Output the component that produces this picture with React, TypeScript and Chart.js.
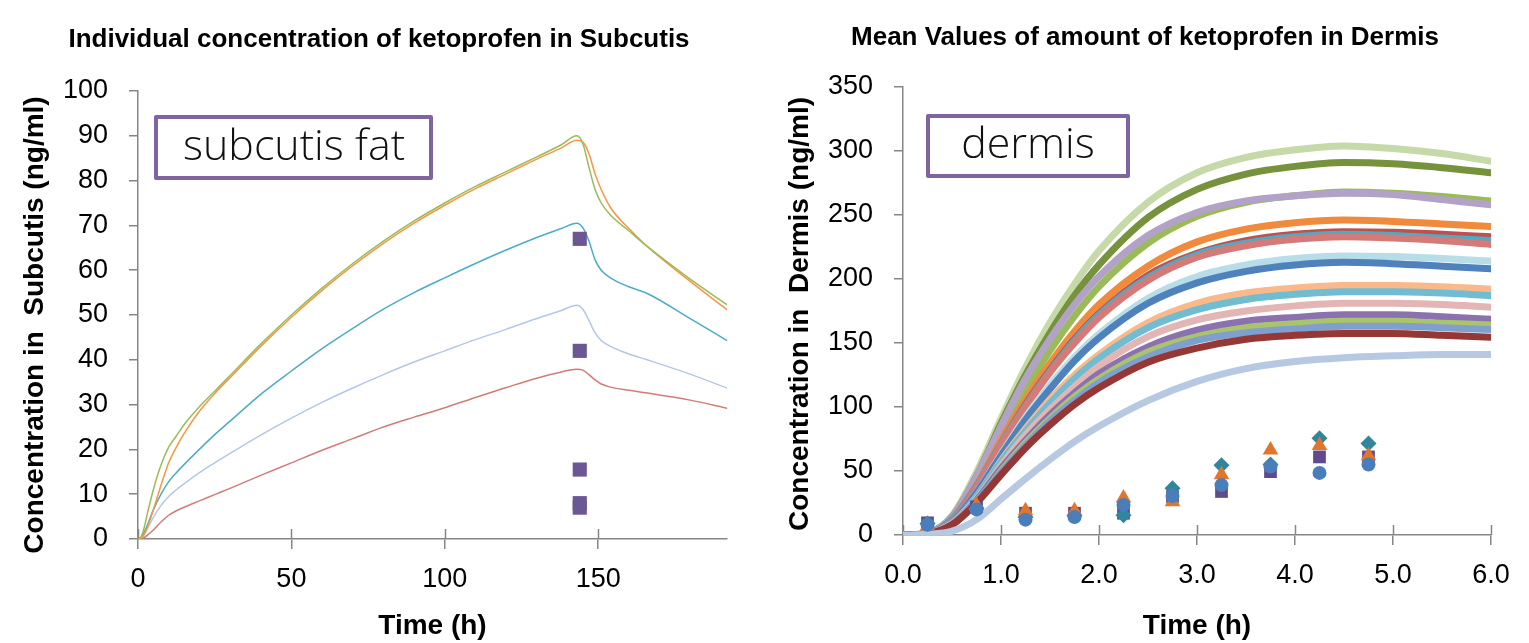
import React, { useEffect, useRef } from "react";
import { Chart, registerables } from "chart.js";

Chart.register(...registerables);

// ---------- Left chart: subcutis ----------
const subTitle = "Individual concentration of ketoprofen in Subcutis";
const subYTitle = "Concentration in  Subcutis (ng/ml)";
const subTimes = [0, 1, 2, 3, 5, 7.5, 10, 12.5, 15, 20, 25, 30, 40, 50, 60, 70, 80, 90, 100, 110, 120, 130, 138, 143, 145, 147, 149, 151, 154, 160, 166, 180, 192];
const subGreen = [0, 0.5, 2.5, 5.5, 11, 16.5, 20.5, 23, 25.5, 29.5, 33, 36.5, 43.5, 50, 56, 61.5, 66.5, 71, 75, 78.7, 82, 85.3, 88, 90, 88.3, 83, 78, 75, 72.3, 68.8, 65.3, 58, 52.3];
const subOrange = [0, 0.2, 1, 2.5, 6.5, 12, 17, 20.5, 23.5, 28.5, 32.5, 36, 43, 49.5, 55.5, 61, 66, 70.5, 74.5, 78.2, 81.5, 84.8, 87.3, 89, 88.6, 86, 81.5, 78, 74, 69.3, 65.3, 57.5, 51.2];
const subTeal = [0, 0.3, 1.5, 3, 6.5, 10, 12.8, 14.8, 16.6, 20, 23.3, 26.3, 32.3, 37.5, 42.5, 47, 51.3, 55, 58.3, 61.5, 64.5, 67.3, 69.3, 70.5, 69.5, 66.5, 62.3, 60, 58.3, 56.3, 54.8, 49.2, 44.3];
const subLightBlue = [0, 0.2, 1, 2.2, 4.8, 7.5, 9.5, 11, 12.3, 14.8, 17, 19.1, 23.2, 27, 30.5, 33.7, 36.7, 39.5, 42, 44.5, 46.8, 49.2, 51, 52.2, 51.3, 48.8, 46, 44.3, 43, 41.3, 40, 36.8, 33.7];
const subRed = [0, 0, 0.3, 0.8, 2, 3.8, 5.3, 6.3, 7.1, 8.5, 9.9, 11.3, 14.2, 17, 19.8, 22.4, 25, 27.2, 29.3, 31.6, 33.8, 35.9, 37.3, 37.9, 37.7, 36.7, 35.5, 34.6, 33.9, 33.2, 32.6, 31, 29.2];
const subSampleTimes = [144, 144, 144, 144, 144];
const subSampleValues = [67, 42, 15.5, 8, 7];

// ---------- Right chart: dermis ----------
const dermTitle = "Mean Values of amount of ketoprofen in Dermis";
const dermYTitle = "Concentration in  Dermis (ng/ml)";
const dermTimes = [0, 0.25, 0.5, 0.75, 1, 1.25, 1.5, 1.75, 2, 2.5, 3, 3.5, 4, 4.5, 5, 5.5, 6];
const dermA = [0, 1.5, 15, 49, 91, 131, 166, 196, 222, 260, 283, 295, 301, 304, 302, 298, 292];
const dermB = [0, 1.5, 14, 46, 87, 125, 158, 187, 211, 248, 270, 282, 288, 291, 290, 287, 283];
const dermC = [0, 1.3, 12, 41, 78, 113, 144, 171, 194, 228, 249, 260, 265, 268, 267, 264.5, 261];
const dermD = [0, 1.5, 14, 46, 85, 122, 153, 180, 202, 234, 252, 261, 265, 267, 266, 262, 258];
const dermE = [0, 1, 12, 39, 74, 106, 134, 159, 180, 210, 229, 239, 244, 246, 245, 243, 241];
const dermF = [0, 1, 12, 38, 71, 102, 129, 153, 173, 203, 220, 230, 235, 237, 236.5, 235, 233];
const dermG = [0, 1, 12, 38, 71, 101, 128, 152, 172, 201, 219, 228, 233, 235, 234, 232, 230];
const dermH = [0, 1, 11, 37, 70, 100, 127, 150, 170, 199, 217, 226, 231, 233, 232, 230, 227];
const dermI = [0, 1, 10, 33, 63, 92, 117, 139, 157, 185, 202, 211, 216, 218, 217.5, 216, 214];
const dermJ = [0, 1, 10, 33, 62, 90, 114, 136, 154, 181, 197, 206, 211, 213, 212, 210, 208];
const dermK = [0, 1, 9, 30, 58, 83, 106, 125, 141, 166, 181, 189, 193, 195, 195, 194, 192];
const dermL = [0, 1, 9, 30, 57, 81, 103, 122, 138, 162, 176, 184, 188, 190, 190, 189, 187];
const dermM = [0, 1, 9, 28, 54, 78, 98, 116, 132, 155, 168, 175, 179, 181, 181, 180, 178];
const dermN = [0, 1, 8, 27, 52, 74, 94, 111, 126, 147, 160, 167, 170, 172, 172, 170.5, 168.5];
const dermO = [0, 1, 8, 26, 50, 71, 90, 106, 120, 141, 153, 160, 163, 165, 165, 163.5, 162];
const dermP = [0, 1, 8, 26, 50, 72, 91, 108, 122, 143, 155, 162, 165, 167, 167, 165.5, 164];
const dermQ = [0, 1, 8, 26, 49, 70, 89, 105, 119, 139, 152, 158, 161, 163, 163, 162, 160.5];
const dermR = [0, 1, 8, 25, 47, 68, 86, 102, 115, 135, 146, 153, 156, 157.5, 157.5, 156, 154.5];
const dermS = [0, 0.5, 3, 12, 28, 44, 59, 73, 85, 105, 120, 130, 135.5, 138.5, 140, 141, 141];

const markTimes = [0.25, 0.75, 1.25, 1.75, 2.25, 2.75, 3.25, 3.75, 4.25, 4.75];
const markSquares = [9.5, 22, 17, 17, 17, 30, 34, 49.5, 61, 61];
const markTriangles = [7, 23, 19, 19, 29, 26, 47, 66.5, 70, 62];
const markDiamonds = [9, 21, 14, 15, 15.5, 36.5, 54.5, 55, 75.5, 71.5];
const markCircles = [8, 20, 12, 14, 23.5, 30.5, 39, 53.5, 48.5, 55];

// ---------- styling ----------
const SANS = "'Liberation Sans', Arial, sans-serif";
const AXIS = "#868686";
const BOX = "#8064A2";
const W = 1529;
const H = 643;
const HALF = 764;

const xy = (xs: number[], ys: number[]) => ys.map((y, i) => ({ x: xs[i], y }));

const lineDs = (xs: number[], ys: number[], color: string, width: number, order: number) => ({
  data: xy(xs, ys),
  showLine: true,
  borderColor: color,
  backgroundColor: color,
  borderWidth: width,
  pointRadius: 0,
  pointHoverRadius: 0,
  cubicInterpolationMode: "monotone" as const,
  borderCapStyle: "round" as const,
  borderJoinStyle: "round" as const,
  order,
});

const markDs = (xs: number[], ys: number[], color: string, style: string, radius: number, order: number) => ({
  data: xy(xs, ys),
  showLine: false,
  pointStyle: style,
  pointRadius: radius,
  pointHoverRadius: radius,
  pointBorderWidth: 0,
  pointBackgroundColor: color,
  pointBorderColor: color,
  backgroundColor: color,
  borderColor: color,
  order,
});

type Decor = {
  title: string;
  titleX: number;
  titleY: number;
  yTitle: string;
  yTitleX: number;
  yTitleY: number;
  box: { x: number; y: number; w: number; h: number; text: string; cx: number; cy: number };
};

const decorPlugin = (d: Decor) => ({
  id: "decor",
  beforeDatasetsDraw(chart: any) {
    const { ctx, chartArea } = chart;
    const sx = chart.scales.x;
    ctx.save();
    ctx.strokeStyle = AXIS;
    ctx.lineWidth = 1.5;
    ctx.beginPath();
    sx.ticks.forEach((t: any) => {
      const px = Math.round(sx.getPixelForValue(t.value)) + 0.5;
      ctx.moveTo(px, chartArea.bottom - 10);
      ctx.lineTo(px, chartArea.bottom);
    });
    ctx.stroke();
    ctx.restore();
  },
  afterDraw(chart: any) {
    const { ctx } = chart;
    const b = d.box;
    ctx.save();
    // chart title
    ctx.fillStyle = "#000000";
    ctx.font = `bold 26px ${SANS}`;
    ctx.textAlign = "center";
    ctx.textBaseline = "middle";
    ctx.fillText(d.title, d.titleX, d.titleY);
    // y axis title
    ctx.save();
    ctx.translate(d.yTitleX, d.yTitleY);
    ctx.rotate(-Math.PI / 2);
    ctx.font = `bold 28px ${SANS}`;
    ctx.fillText(d.yTitle, 0, 0);
    ctx.restore();
    // text box
    ctx.fillStyle = "#ffffff";
    ctx.fillRect(b.x, b.y, b.w, b.h);
    ctx.strokeStyle = BOX;
    ctx.lineWidth = 4;
    ctx.lineJoin = "round";
    ctx.strokeRect(b.x, b.y, b.w, b.h);
    ctx.fillStyle = "#111111";
    ctx.font = "300 43px 'Open Sans', 'Liberation Sans', sans-serif";
    ctx.textAlign = "center";
    ctx.textBaseline = "middle";
    ctx.fillText(b.text, b.cx, b.cy);
    ctx.restore();
  },
});

const makeOptions = (cfg: {
  top: number;
  xMax: number;
  xStep: number;
  yMax: number;
  yStep: number;
  xFmt: (v: number) => string;
  yAxisWidth: number;
  xAxisHeight: number;
  rightPad: number;
}) => ({
  responsive: false,
  animation: false as const,
  events: [] as any[],
  layout: { padding: { left: 0, right: cfg.rightPad, top: cfg.top, bottom: 0 } },
  plugins: {
    legend: { display: false },
    tooltip: { enabled: false },
    title: { display: false },
  },
  scales: {
    x: {
      type: "linear" as const,
      min: 0,
      max: cfg.xMax,
      afterFit: (s: any) => {
        s.height = cfg.xAxisHeight;
      },
      ticks: {
        stepSize: cfg.xStep,
        includeBounds: false,
        maxRotation: 0,
        autoSkip: false,
        color: "#000000",
        font: { family: SANS, size: 27 },
        padding: 14,
        callback: (v: any) => cfg.xFmt(Number(v)),
      },
      grid: { display: true, drawOnChartArea: false, drawTicks: true, tickLength: 10, color: AXIS, lineWidth: 1.5 },
      border: { display: true, color: AXIS, width: 1.5 },
      title: {
        display: true,
        text: "Time (h)",
        color: "#000000",
        font: { family: SANS, size: 28, weight: "bold" as const },
        padding: { top: 0, bottom: 0 },
      },
    },
    y: {
      type: "linear" as const,
      min: 0,
      max: cfg.yMax,
      afterFit: (s: any) => {
        s.width = cfg.yAxisWidth;
      },
      ticks: {
        stepSize: cfg.yStep,
        autoSkip: false,
        color: "#000000",
        font: { family: SANS, size: 27 },
        padding: 21,
      },
      grid: { display: true, drawOnChartArea: false, drawTicks: true, tickLength: 9, color: AXIS, lineWidth: 1.5 },
      border: { display: true, color: AXIS, width: 1.5 },
      title: { display: false },
    },
  },
});

export default function App() {
  const leftRef = useRef<HTMLCanvasElement | null>(null);
  const rightRef = useRef<HTMLCanvasElement | null>(null);

  useEffect(() => {
    if (!leftRef.current || !rightRef.current) return;

    const leftChart = new Chart(leftRef.current, {
      type: "scatter",
      data: {
        datasets: [
          markDs(subSampleTimes, subSampleValues, "#6B5793", "rect", 10, 0),
          lineDs(subTimes, subGreen, "#9BBB59", 1.5, 1),
          lineDs(subTimes, subOrange, "#F79646", 1.5, 2),
          lineDs(subTimes, subTeal, "#4BACC6", 1.5, 3),
          lineDs(subTimes, subLightBlue, "#B4C7E7", 1.5, 4),
          lineDs(subTimes, subRed, "#D27C7A", 1.5, 5),
        ] as any,
      },
      options: makeOptions({
        top: 91,
        xMax: 192,
        xStep: 50,
        yMax: 100,
        yStep: 10,
        xFmt: (v) => String(v),
        yAxisWidth: 138,
        xAxisHeight: 104,
        rightPad: 37,
      }) as any,
      plugins: [
        decorPlugin({
          title: subTitle,
          titleX: 379,
          titleY: 40,
          yTitle: subYTitle,
          yTitleX: 35,
          yTitleY: 325,
          box: { x: 156, y: 117, w: 275, h: 61, text: "subcutis fat", cx: 294, cy: 148 },
        }),
      ],
    });

    const rightChart = new Chart(rightRef.current, {
      type: "scatter",
      data: {
        datasets: [
          markDs(markTimes, markCircles, "#4A7EBB", "circle", 7, 0),
          markDs(markTimes, markTriangles, "#E1762B", "triangle", 9, 1),
          markDs(markTimes, markDiamonds, "#31859C", "rectRot", 8, 2),
          markDs(markTimes, markSquares, "#5F4B8B", "rect", 9, 3),
          lineDs(dermTimes, dermS, "#B7C9E2", 7, 10),
          lineDs(dermTimes, dermR, "#953735", 7, 11),
          lineDs(dermTimes, dermQ, "#7F9FCF", 7, 12),
          lineDs(dermTimes, dermP, "#A9C46B", 7, 13),
          lineDs(dermTimes, dermO, "#604A7B", 7, 14),
          lineDs(dermTimes, dermN, "#8B72AE", 7, 15),
          lineDs(dermTimes, dermM, "#E3B6B5", 7, 16),
          lineDs(dermTimes, dermL, "#6FBCD3", 7, 17),
          lineDs(dermTimes, dermK, "#FAB98A", 7, 18),
          lineDs(dermTimes, dermJ, "#4F81BD", 7, 19),
          lineDs(dermTimes, dermI, "#B7DEE8", 7, 20),
          lineDs(dermTimes, dermH, "#D47A78", 7, 21),
          lineDs(dermTimes, dermG, "#4BACC6", 7, 22),
          lineDs(dermTimes, dermF, "#C0504D", 7, 23),
          lineDs(dermTimes, dermE, "#F08A3C", 7, 24),
          lineDs(dermTimes, dermD, "#B3A2C7", 7, 25),
          lineDs(dermTimes, dermC, "#9BBB59", 7, 26),
          lineDs(dermTimes, dermB, "#76923C", 7, 27),
          lineDs(dermTimes, dermA, "#C6D9A8", 7, 28),
        ] as any,
      },
      options: makeOptions({
        top: 87,
        xMax: 6,
        xStep: 1,
        yMax: 350,
        yStep: 50,
        xFmt: (v) => v.toFixed(1),
        yAxisWidth: 139,
        xAxisHeight: 108,
        rightPad: 38,
      }) as any,
      plugins: [
        decorPlugin({
          title: dermTitle,
          titleX: 381,
          titleY: 38,
          yTitle: dermYTitle,
          yTitleX: 36,
          yTitleY: 314,
          box: { x: 164, y: 116, w: 200, h: 60, text: "dermis", cx: 264, cy: 146 },
        }),
      ],
    });

    return () => {
      leftChart.destroy();
      rightChart.destroy();
    };
  }, []);

  return (
    <div style={{ position: "absolute", left: 0, top: 0, width: W, height: H, background: "#ffffff", overflow: "hidden" }}>
      <canvas ref={leftRef} width={HALF} height={H} style={{ position: "absolute", left: 0, top: 0, width: HALF, height: H }} />
      <canvas ref={rightRef} width={W - HALF} height={H} style={{ position: "absolute", left: HALF, top: 0, width: W - HALF, height: H }} />
    </div>
  );
}
